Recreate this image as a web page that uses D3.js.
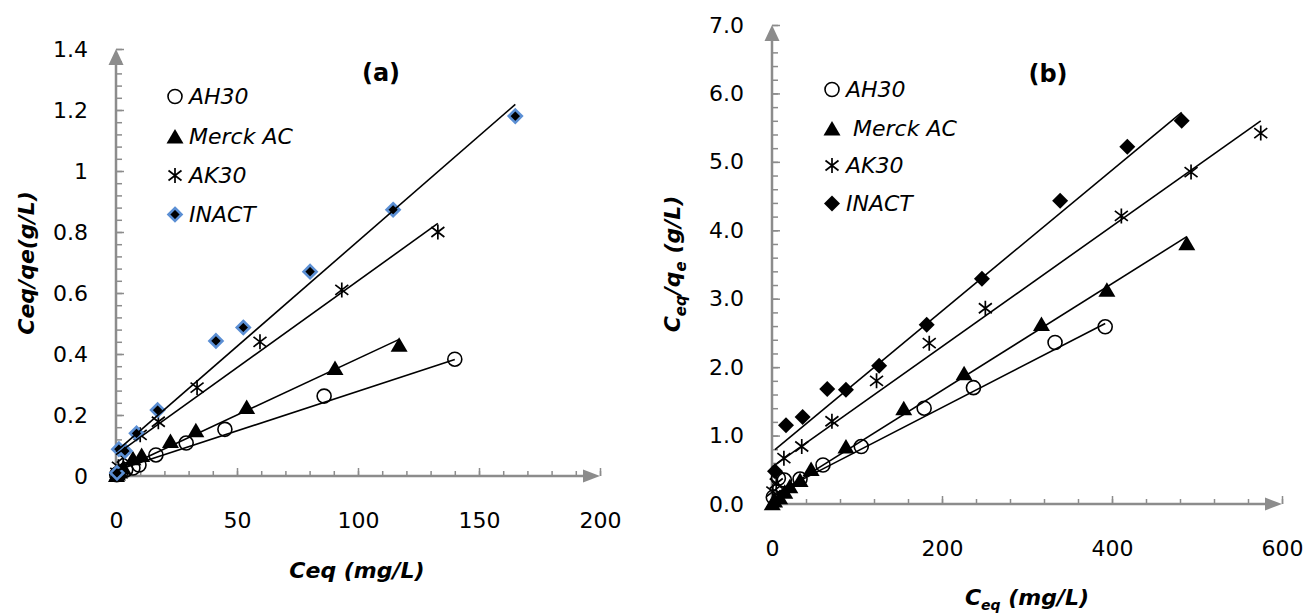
<!DOCTYPE html>
<html><head><meta charset="utf-8">
<script src="https://cdn.jsdelivr.net/npm/d3@7"></script>
<style>body{margin:0;background:#fff}svg{display:block}</style>
</head><body>
<script>
// ---------------- DATA ----------------
const seriesNames = ["AH30", "Merck AC", "AK30", "INACT"];
const legendLabelsB = ["AH30", " Merck AC", "AK30", "INACT"];

// panel (a)
const ah30_a_x  = [0.3, 0.8, 2, 4, 7, 9.5, 16.5, 29, 45, 86, 140];
const ah30_a_y  = [0.004, 0.008, 0.012, 0.02, 0.026, 0.036, 0.069, 0.108, 0.153, 0.262, 0.383];
const merck_a_x = [0.2, 0.6, 1.5, 3, 7, 10.6, 22.5, 33, 54, 90.5, 117];
const merck_a_y = [0.003, 0.008, 0.015, 0.028, 0.058, 0.069, 0.115, 0.15, 0.226, 0.354, 0.43];
const ak30_a_x  = [0.3, 1, 3, 10, 17.5, 33.5, 59.5, 93.3, 133];
const ak30_a_y  = [0.01, 0.03, 0.06, 0.135, 0.178, 0.29, 0.44, 0.61, 0.80];
const inact_a_x = [0.4, 1.2, 3.7, 8.5, 17.2, 41.3, 52.6, 80.2, 114.5, 165];
const inact_a_y = [0.01, 0.088, 0.082, 0.14, 0.216, 0.443, 0.487, 0.67, 0.873, 1.18];
// trend lines (a): [slope, intercept, xStart, xEnd]
const fit_a = [[0.0026, 0.018, 0, 140], [0.0037, 0.015, 0, 117], [0.0057, 0.07, 0, 133], [0.0069, 0.08, 0, 165]];

// panel (b)
const ah30_b_x  = [1.5, 7.5, 14.5, 33, 60, 105, 179, 237, 333, 392];
const ah30_b_y  = [0.1, 0.375, 0.35, 0.365, 0.57, 0.84, 1.40, 1.70, 2.36, 2.59];
const merck_b_x = [0.3, 3, 9, 15, 21, 33, 46, 87, 155, 226, 317, 394, 488];
const merck_b_y = [0.01, 0.05, 0.1, 0.18, 0.26, 0.35, 0.51, 0.84, 1.40, 1.91, 2.63, 3.13, 3.81];
const ak30_b_x  = [1, 5, 14, 35, 70.5, 123, 185, 251, 411, 493, 575];
const ak30_b_y  = [0.18, 0.3, 0.67, 0.84, 1.21, 1.80, 2.35, 2.86, 4.21, 4.85, 5.42];
const inact_b_x = [3.5, 16.5, 36, 65, 87, 126, 182, 247, 339, 418, 482];
const inact_b_y = [0.48, 1.15, 1.27, 1.68, 1.67, 2.02, 2.62, 3.29, 4.43, 5.22, 5.60];
const fit_b = [[0.0064, 0.13, 0, 392], [0.0078, 0.1, 0, 488], [0.0088, 0.54, 0, 575], [0.0103, 0.76, 3.5, 482]];

// axes
const xDomainA = [0, 200], yDomainA = [0, 1.4];
const xTicksA = [0, 50, 100, 150, 200], xLabelsA = ["0", "50", "100", "150", "200"];
const yTicksA = [0, 0.2, 0.4, 0.6, 0.8, 1.0, 1.2, 1.4], yLabelsA = ["0", "0.2", "0.4", "0.6", "0.8", "1", "1.2", "1.4"];
const xMinorStepA = 10, yMinorStepA = 0.04;
const xDomainB = [0, 600], yDomainB = [0, 7];
const xTicksB = [0, 200, 400, 600], xLabelsB = ["0", "200", "400", "600"];
const yTicksB = [0, 1, 2, 3, 4, 5, 6, 7], yLabelsB = ["0.0", "1.0", "2.0", "3.0", "4.0", "5.0", "6.0", "7.0"];
const xMinorStepB = 40, yMinorStepB = 0.2;

// ---------------- DRAW ----------------
const AX = "#8c8c8c";
const FONT = "DejaVu Sans";
const svg = d3.select("body").append("svg").attr("width", 1306).attr("height", 615);

const shapes = {
  circle: g => g.append("circle").attr("r", 7).attr("fill", "none").attr("stroke", "#000").attr("stroke-width", 1.6),
  triangle: g => g.append("path").attr("d", "M0,-7.5L8.5,7L-8.5,7Z").attr("fill", "#000"),
  star: g => g.append("path").attr("d", "M0,-7.5V7.5M-6.5,-5L6.5,5M-6.5,5L6.5,-5").attr("stroke", "#000").attr("stroke-width", 1.7).attr("fill", "none"),
  diamondBlue: g => g.append("path").attr("d", "M0,-6.5L6.5,0L0,6.5L-6.5,0Z").attr("fill", "#000").attr("stroke", "#5b8fd4").attr("stroke-width", 2.6),
  diamond: g => g.append("path").attr("d", "M0,-8L8,0L0,8L-8,0Z").attr("fill", "#000")
};

function range(lo, hi, step) { const n = Math.round((hi - lo) / step); return d3.range(n + 1).map(i => lo + i * step); }

function panel(cfg) {
  const x = d3.scaleLinear(cfg.xDomain, cfg.xRange);
  const y = d3.scaleLinear(cfg.yDomain, cfg.yRange);
  const g = svg.append("g");
  const x0 = x(cfg.xDomain[0]), y0 = y(cfg.yDomain[0]);

  // minor ticks
  const xMin = g.append("g").attr("transform", `translate(0,${y0})`)
    .call(d3.axisBottom(x).tickValues(range(cfg.xDomain[0], cfg.xDomain[1], cfg.xMinor)).tickSize(-5).tickFormat(""));
  const yMin = g.append("g").attr("transform", `translate(${x0},0)`)
    .call(d3.axisLeft(y).tickValues(range(cfg.yDomain[0], cfg.yDomain[1], cfg.yMinor)).tickSize(-6).tickFormat(""));
  // major ticks + labels
  const xMaj = g.append("g").attr("transform", `translate(0,${y0})`)
    .call(d3.axisBottom(x).tickValues(cfg.xTicks).tickSize(-8).tickPadding(36).tickFormat((d, i) => cfg.xLabels[i]));
  const yMaj = g.append("g").attr("transform", `translate(${x0},0)`)
    .call(d3.axisLeft(y).tickValues(cfg.yTicks).tickSize(-8).tickPadding(28).tickFormat((d, i) => cfg.yLabels[i]));
  [xMin, yMin, xMaj, yMaj].forEach(a => {
    a.select(".domain").remove();
    a.selectAll("line").attr("stroke", AX).attr("stroke-width", 1.5);
    a.selectAll("text").attr("fill", "#000").style("font-family", FONT).style("font-size", "22px");
  });
  // axis lines + arrows
  const xr = x(cfg.xDomain[1]), yt = y(cfg.yDomain[1]);
  g.append("line").attr("x1", x0).attr("x2", xr - 6).attr("y1", y0).attr("y2", y0).attr("stroke", AX).attr("stroke-width", 2.5);
  g.append("line").attr("x1", x0).attr("x2", x0).attr("y1", y0 + 1).attr("y2", yt + 6).attr("stroke", AX).attr("stroke-width", 2.5);
  g.append("path").attr("d", `M${xr},${y0}L${xr - 17},${y0 - 6.5}L${xr - 17},${y0 + 6.5}Z`).attr("fill", AX);
  g.append("path").attr("d", `M${x0},${yt}L${x0 - 7.5},${yt + 16}L${x0 + 7.5},${yt + 16}Z`).attr("fill", AX);

  // markers
  cfg.series.forEach(s => {
    s.x.forEach((v, i) => {
      const m = g.append("g").attr("transform", `translate(${x(v)},${y(s.y[i])})`);
      shapes[s.shape](m);
    });
  });
  // trend lines
  const line = d3.line().x(d => x(d[0])).y(d => y(d[1]));
  cfg.fits.forEach(f => {
    g.append("path").attr("d", line([[f[2], f[0] * f[2] + f[1]], [f[3], f[0] * f[3] + f[1]]]))
      .attr("stroke", "#000").attr("stroke-width", 1.6).attr("fill", "none");
  });

  // legend
  cfg.series.forEach((s, i) => {
    const by = cfg.legend.y[i];
    const m = g.append("g").attr("transform", `translate(${cfg.legend.mx},${by - 7.5})`);
    shapes[s.shape](m);
    g.append("text").attr("x", cfg.legend.tx).attr("y", by).text(cfg.legend.labels[i])
      .style("font-family", FONT).style("font-style", "italic").style("font-size", "22px").style("white-space", "pre");
  });
  // panel title
  g.append("text").attr("x", cfg.title.x).attr("y", cfg.title.y).attr("text-anchor", "middle").text(cfg.title.t)
    .style("font-family", FONT).style("font-weight", "bold").style("font-size", "24px");
  return g;
}

panel({
  xDomain: xDomainA, yDomain: yDomainA, xRange: [116, 600], yRange: [476, 49],
  xTicks: xTicksA, xLabels: xLabelsA, yTicks: yTicksA, yLabels: yLabelsA, xMinor: xMinorStepA, yMinor: yMinorStepA,
  series: [
    {x: ah30_a_x, y: ah30_a_y, shape: "circle"},
    {x: merck_a_x, y: merck_a_y, shape: "triangle"},
    {x: ak30_a_x, y: ak30_a_y, shape: "star"},
    {x: inact_a_x, y: inact_a_y, shape: "diamondBlue"}],
  fits: fit_a,
  legend: {mx: 175, tx: 189, y: [104, 144, 183, 222], labels: seriesNames},
  title: {t: "(a)", x: 381, y: 81}
});
panel({
  xDomain: xDomainB, yDomain: yDomainB, xRange: [772, 1282], yRange: [504, 25],
  xTicks: xTicksB, xLabels: xLabelsB, yTicks: yTicksB, yLabels: yLabelsB, xMinor: xMinorStepB, yMinor: yMinorStepB,
  series: [
    {x: ah30_b_x, y: ah30_b_y, shape: "circle"},
    {x: merck_b_x, y: merck_b_y, shape: "triangle"},
    {x: ak30_b_x, y: ak30_b_y, shape: "star"},
    {x: inact_b_x, y: inact_b_y, shape: "diamond"}],
  fits: fit_b,
  legend: {mx: 832, tx: 846, y: [97, 136, 173, 211], labels: legendLabelsB},
  title: {t: "(b)", x: 1048, y: 82}
});

// axis titles
const tStyle = s => s.style("font-family", FONT).style("font-weight", "bold").style("font-style", "italic").style("font-size", "22px");
tStyle(svg.append("text").attr("x", 357).attr("y", 578).attr("text-anchor", "middle").text("Ceq (mg/L)"));
tStyle(svg.append("text").attr("transform", "translate(34,263) rotate(-90)").attr("text-anchor", "middle").text("Ceq/qe(g/L)"));

const xtB = tStyle(svg.append("text").attr("x", 1027).attr("y", 605).attr("text-anchor", "middle"));
xtB.append("tspan").text("C");
xtB.append("tspan").attr("dy", 5).style("font-size", "14px").text("eq");
xtB.append("tspan").attr("dy", -5).text(" (mg/L)");

const ytB = tStyle(svg.append("text").attr("transform", "translate(680,264) rotate(-90)").attr("text-anchor", "middle"));
ytB.append("tspan").text("C");
ytB.append("tspan").attr("dy", 6).style("font-size", "15px").text("eq");
ytB.append("tspan").attr("dy", -6).text("/q");
ytB.append("tspan").attr("dy", 6).style("font-size", "15px").text("e");
ytB.append("tspan").attr("dy", -6).text(" (g/L)");
</script>
</body></html>
